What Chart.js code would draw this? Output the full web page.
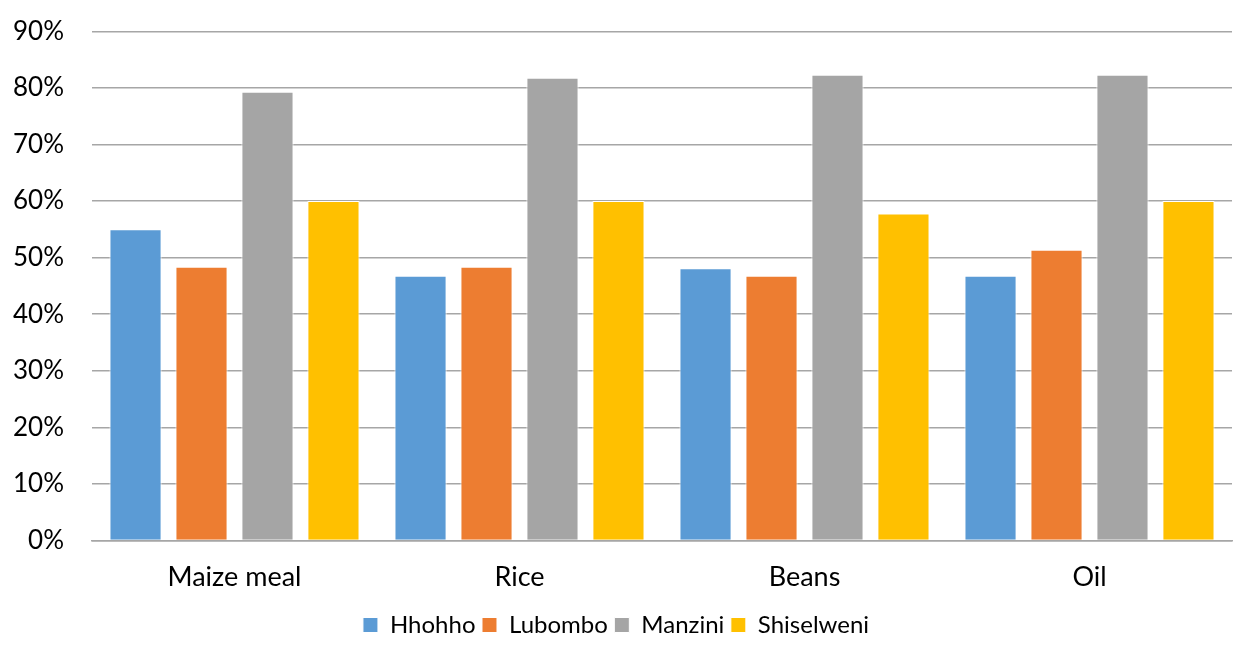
<!DOCTYPE html>
<html>
<head>
<meta charset="utf-8">
<script src="https://cdn.jsdelivr.net/npm/chart.js@4"></script>
<style>
  html, body { margin: 0; padding: 0; background: #fff; }
  #wrap { width: 1233px; height: 657px; }
</style>
</head>
<body>
<div id="wrap"><canvas id="myBarChart"></canvas></div>
<script>
// Commodities and region shares
const categorias = ['Maize meal', 'Rice', 'Beans', 'Oil'];
const hhohho = [0.55, 0.468, 0.481, 0.468];
const lubombo = [0.484, 0.484, 0.468, 0.514];
const manzini = [0.793, 0.818, 0.823, 0.823];
const shiselweni = [0.60, 0.60, 0.578, 0.60];
const yTicks = [0, 0.1, 0.2, 0.3, 0.4, 0.5, 0.6, 0.7, 0.8, 0.9];

const fonte = "Lato, 'Open Sans', sans-serif";

function serie(label, data, cor) {
    return {
        label: label,
        data: data,
        backgroundColor: cor,
        borderColor: '#ffffff',
        borderWidth: 1,
        barPercentage: 0.79,
        categoryPercentage: 0.926
    };
}

const ctx = document.getElementById('myBarChart').getContext('2d');

new Chart(ctx, {
    type: 'bar',
    data: {
        labels: categorias,
        datasets: [
            serie('Hhohho', hhohho, '#5b9bd5'),
            serie('Lubombo', lubombo, '#ed7d31'),
            serie('Manzini', manzini, '#a5a5a5'),
            serie('Shiselweni', shiselweni, '#ffc000')
        ]
    },
    options: {
        responsive: true,
        maintainAspectRatio: false,
        animation: false,
        layout: { padding: { top: 0, right: 1, left: 0, bottom: 10 } },
        plugins: {
            tooltip: { enabled: false },
            legend: {
                position: 'bottom',
                labels: {
                    color: '#000',
                    font: { family: fonte, size: 24 },
                    boxWidth: 15,
                    boxHeight: 15,
                    padding: 6.5
                }
            }
        },
        scales: {
            x: {
                grid: { display: false },
                border: { color: '#a6a6a6', width: 1.5 },
                ticks: {
                    color: '#000',
                    font: { family: fonte, size: 27, lineHeight: 0.85 },
                    padding: 17.5
                }
            },
            y: {
                min: 0,
                max: 0.9,
                afterBuildTicks: axis => { axis.ticks = yTicks.map(v => ({ value: v })); },
                afterFit: axis => { axis.width = 92; },
                border: { display: false },
                grid: { color: '#a6a6a6', lineWidth: 1.5, drawTicks: false },
                ticks: {
                    color: '#000',
                    // small lineHeight keeps the top label from pushing the plot down
                    font: { family: fonte, size: 26, lineHeight: 0.25 },
                    padding: 28,
                    callback: v => Math.round(v * 100) + '%'
                }
            }
        }
    }
});
</script>
</body>
</html>
